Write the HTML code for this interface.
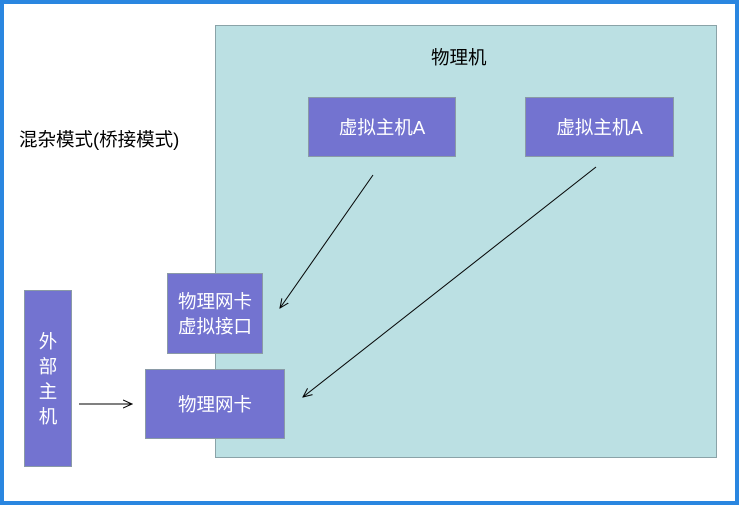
<!DOCTYPE html><html><head><style>
body{margin:0;width:739px;height:505px;overflow:hidden;background:#fff;font-family:"Liberation Sans","Noto Sans CJK SC",sans-serif}
.f{position:absolute;box-sizing:border-box;border:4px solid #2a86e0;left:0;top:0;width:739px;height:505px}
.b{position:absolute;box-sizing:border-box;background:#7373d0;border:1px solid #8a9aa6;color:#fff;font-size:18.5px;display:flex;align-items:center;justify-content:center;text-align:center;line-height:25px}
.t{position:absolute;font-size:18.5px;color:#000}
</style></head><body>
<div class="f"></div>
<div style="position:absolute;left:215px;top:25px;width:502px;height:433px;box-sizing:border-box;background:#bbe0e3;border:1px solid #8aa3a8"></div>
<div class="t" style="left:431px;top:44px">物理机</div>
<div class="t" style="left:19px;top:126px">混杂模式(桥接模式)</div>
<div class="b" style="left:308px;top:97px;width:148px;height:60px">虚拟主机A</div>
<div class="b" style="left:525px;top:97px;width:149px;height:60px">虚拟主机A</div>
<div class="b" style="left:167px;top:273px;width:96px;height:81px">物理网卡<br>虚拟接口</div>
<div class="b" style="left:145px;top:369px;width:140px;height:70px">物理网卡</div>
<div class="b" style="left:24px;top:290px;width:48px;height:177px">外<br>部<br>主<br>机</div>
<svg style="position:absolute;left:0;top:0" width="739" height="505">
<defs><marker id="a" markerWidth="10" markerHeight="10" refX="9" refY="5" orient="auto" markerUnits="userSpaceOnUse"><path d="M0,1 L9,5 L0,9" fill="none" stroke="#000" stroke-width="1"/></marker></defs>
<g stroke="#000" stroke-width="1" fill="none">
<line x1="373" y1="175" x2="280" y2="308" marker-end="url(#a)"/>
<line x1="596" y1="167" x2="303" y2="397" marker-end="url(#a)"/>
<line x1="79" y1="404" x2="132" y2="404" marker-end="url(#a)"/>
</g></svg>
</body></html>
